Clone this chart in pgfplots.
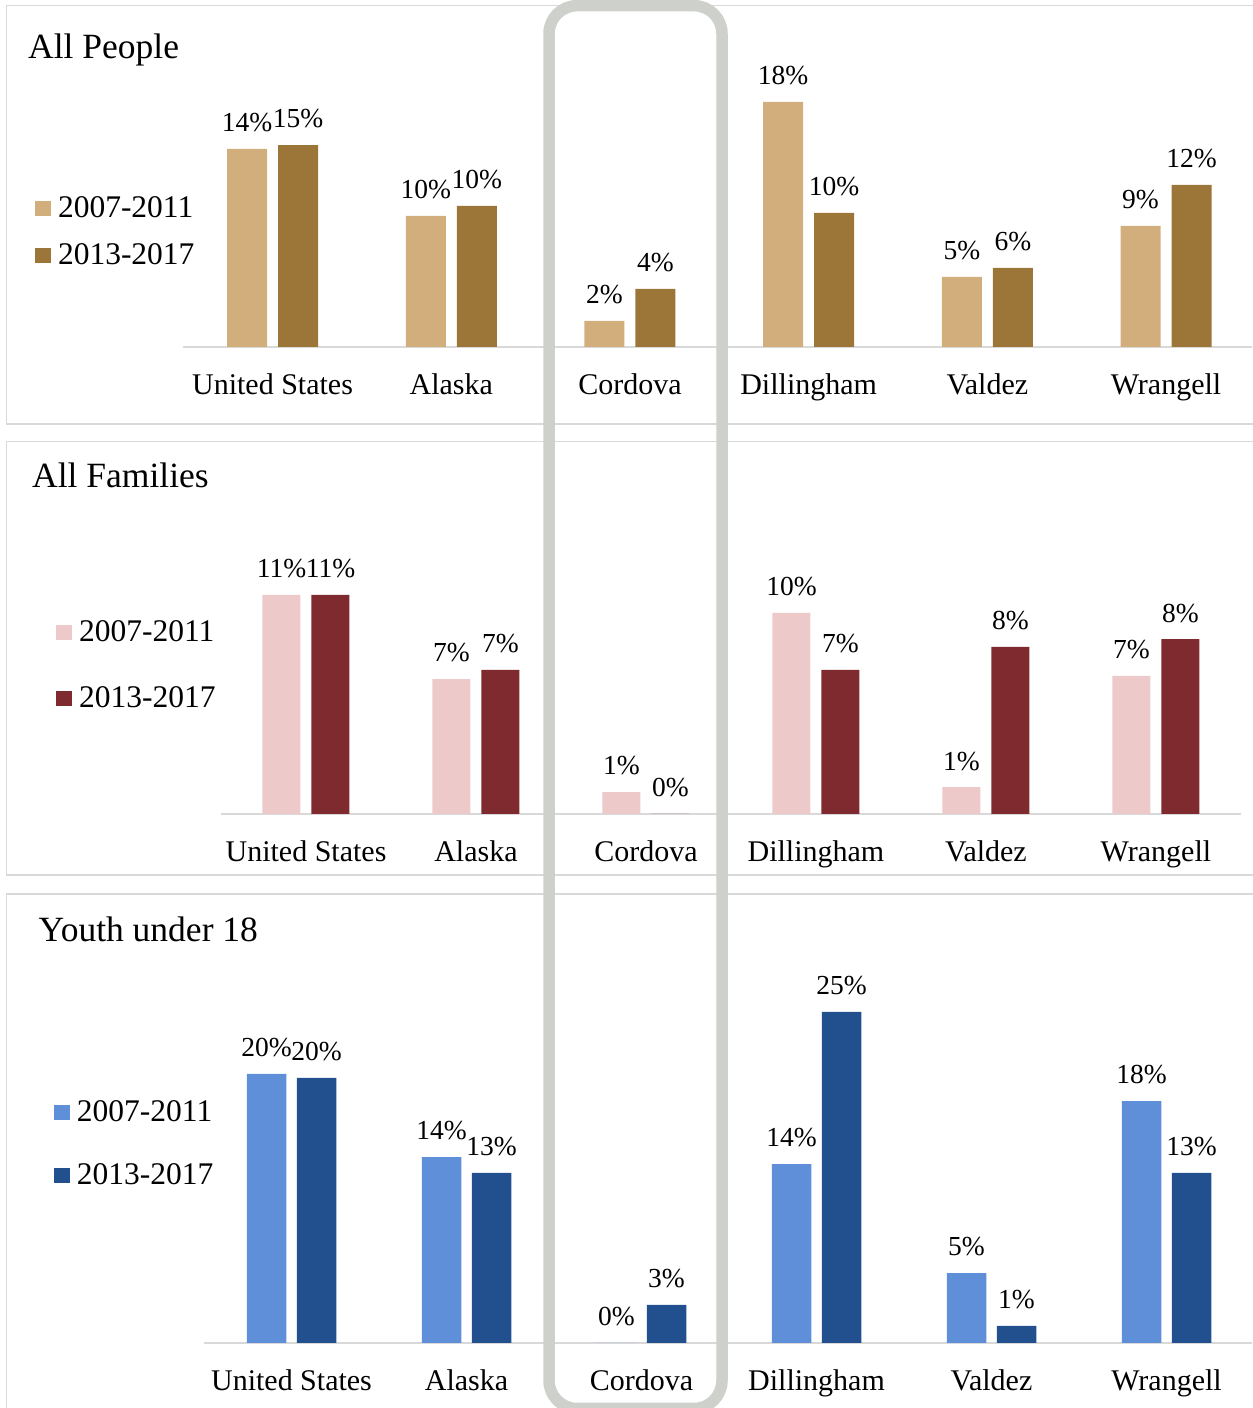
\documentclass[border=0pt]{standalone}
\usepackage{pgfplots}
\pgfplotsset{compat=1.18}
\usepackage{fontspec}
\setmainfont{Liberation Serif}
\definecolor{tanL}{HTML}{D2AE7C}
\definecolor{tanD}{HTML}{9C7538}
\definecolor{pinkL}{HTML}{EEC9C9}
\definecolor{maroonD}{HTML}{7F2A2E}
\definecolor{blueL}{HTML}{5F8FD9}
\definecolor{blueD}{HTML}{22508F}
\definecolor{hl}{HTML}{CDD0CB}
\definecolor{fr}{HTML}{D9D9D9}
\newcommand{\catfont}{\fontsize{30bp}{36bp}\selectfont}
\newcommand{\lblfont}{\fontsize{27.5bp}{33bp}\selectfont}
\newcommand{\legfont}{\fontsize{31.5bp}{38bp}\selectfont}
\newcommand{\titfont}{\fontsize{35.5bp}{42bp}\selectfont}
\pgfplotsset{
  panel/.style={
    scale only axis, anchor=south west, clip=false,
    ymin=0, xmin=-0.5,
    axis x line=bottom, axis y line=none,
    x axis line style={draw=fr, line width=2bp, -},
    xtick={0,...,5},
    xticklabels={United States,Alaska,Cordova,Dillingham,Valdez,Wrangell},
    xtick style={draw=none}, major tick length=0pt,
    xticklabel style={font=\catfont, anchor=base, yshift=-48bp, inner sep=0pt},
    ytick=\empty,
    point meta=explicit symbolic,
    nodes near coords={\pgfplotspointmeta\%},
    every node near coord/.append style={font=\lblfont, anchor=south, yshift=16.5bp, inner sep=0pt, text=black},
    legend cell align=left,
  },
  sq/.style={legend image code/.code={\fill[##1] (0bp,2bp) rectangle (16bp,17bp);}},
  legsty/.style 2 args={legend style={at={(#1)}, anchor=north west, draw=none, fill=none,
     inner sep=0pt, outer sep=0pt, font=\legfont, row sep=#2, column sep=7bp,
     nodes={inner sep=0pt, text height=21bp, text depth=0bp, anchor=base west}}},
}
\begin{document}
\begin{tikzpicture}[x=1bp,y=1bp]
\useasboundingbox (0,0) rectangle (1252,1408);
% panel frames
\draw[fr, line width=1.5bp] (6.5,984) rectangle (1262,1402.5);
\draw[fr, line width=1.5bp] (6.5,533) rectangle (1262,966.3);
\draw[fr, line width=1.5bp] (6.5,-10) rectangle (1262,514);
% titles
\node[anchor=base west, inner sep=0pt, font=\titfont] at (28,1349) {All People};
\node[anchor=base west, inner sep=0pt, font=\titfont] at (32,920) {All Families};
\node[anchor=base west, inner sep=0pt, font=\titfont] at (38.5,466) {Youth under 18};

% ---------- Panel 1: All People
\begin{axis}[panel, at={(183.2bp,1061bp)}, width=1068.8bp, height=274.4bp,
  xmax=5.481, ymax=20, ybar=11bp, bar width=40bp,
  legsty={-0.13866,0.54665}{26bp}]
\addplot[fill=tanL, draw=none, sq] table[x=x, y=y, meta=lab] {
x y lab
0 14.43 14
1 9.55 10
2 1.90 2
3 17.86 18
4 5.10 5
5 8.82 9
};
\addlegendentry{2007-2011}
\addplot[fill=tanD, draw=none, sq] table[x=x, y=y, meta=lab] {
x y lab
0 14.72 15
1 10.28 10
2 4.23 4
3 9.77 10
4 5.76 6
5 11.81 12
};
\addlegendentry{2013-2017}
\end{axis}

% ---------- Panel 2: All Families
\begin{axis}[panel, at={(221bp,594bp)}, width=1020bp, height=248.4bp,
  xmax=5.5, ymax=12, ybar=11bp, bar width=38bp,
  legsty={-0.16176,0.77697}{45bp}]
\addplot[fill=pinkL, draw=none, sq] table[x=x, y=y, meta=lab] {
x y lab
0 10.58 11
1 6.52 7
2 1.06 1
3 9.71 10
4 1.30 1
5 6.67 7
};
\addlegendentry{2007-2011}
\addplot[fill=maroonD, draw=none, sq] table[x=x, y=y, meta=lab] {
x y lab
0 10.58 11
1 6.96 7
2 0 0
3 6.96 7
4 8.07 8
5 8.45 8
};
\addlegendentry{2013-2017}
\end{axis}

% ---------- Panel 3: Youth under 18
\begin{axis}[panel, at={(204bp,65bp)}, width=1048bp, height=356.4bp,
  xmax=5.4886, ymax=27, ybar=10.5bp, bar width=39.5bp,
  legsty={-0.14313,0.67901}{42bp}]
\addplot[fill=blueL, draw=none, sq] table[x=x, y=y, meta=lab] {
x y lab
0 20.38 20
1 14.09 14
2 0 0
3 13.56 14
4 5.30 5
5 18.33 18
};
\addlegendentry{2007-2011}
\addplot[fill=blueD, draw=none, sq] table[x=x, y=y, meta=lab] {
x y lab
0 20.08 20
1 12.88 13
2 2.88 3
3 25.08 25
4 1.29 1
5 12.88 13
};
\addlegendentry{2013-2017}
\end{axis}

% highlight around Cordova
\draw[hl, line width=11.5bp, rounded corners=28bp] (549,1402.3) rectangle (722,-0.5);
\end{tikzpicture}
\end{document}
